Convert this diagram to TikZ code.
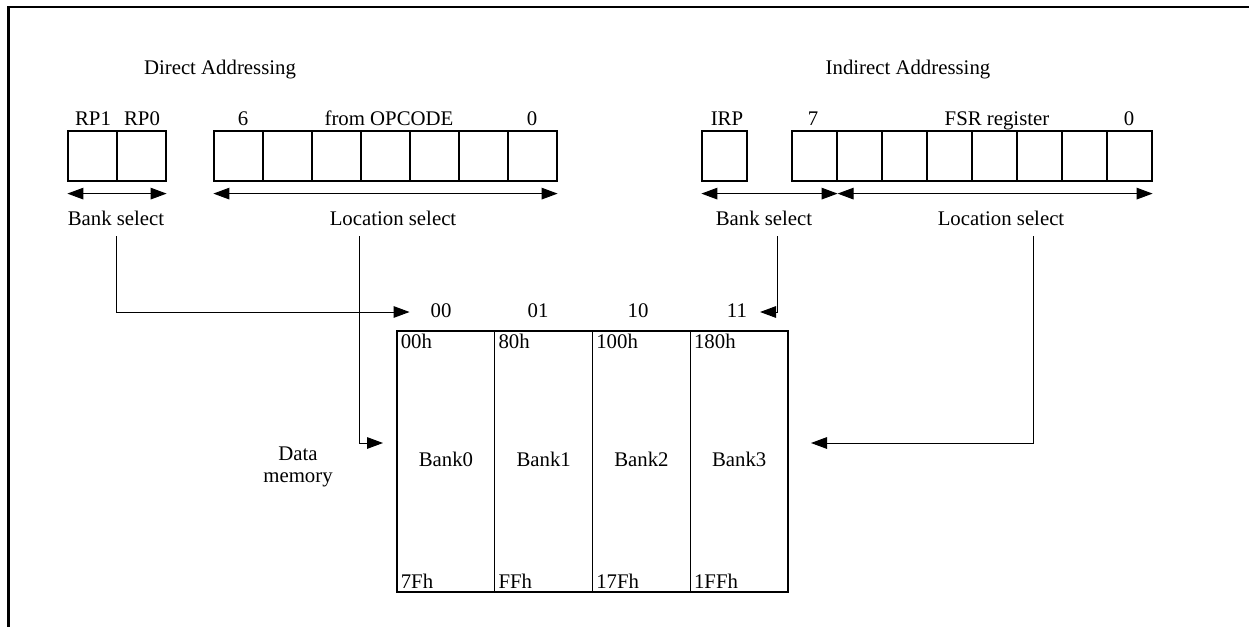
\documentclass[tikz,border=0pt]{standalone}
\usepackage{fontspec}
\setmainfont{Liberation Serif}
\usetikzlibrary{arrows.meta}

\begin{document}
\begin{tikzpicture}[x=0.5pt,y=-0.5pt,font=\fontsize{10.4}{11}\selectfont,
        txt/.style={inner sep=3.33pt,text height=7pt,text depth=2pt},
        bitL/.style={draw,line width=0.6pt,minimum width=24.5pt,minimum height=25pt,inner sep=0pt},
        bitR/.style={bitL,minimum width=22.5pt},
        bank/.style={draw,line width=0.6pt,minimum width=48.875pt,minimum height=130.5pt,txt},
        addr/.style={txt,inner sep=2pt,text depth=0pt},
        selspan/.style={line width=0.5pt,{Triangle[length=8pt,width=5.8pt]}-{Triangle[length=8pt,width=5.8pt]}},
        conn/.style={line width=0.5pt,-{Triangle[length=8pt,width=5.8pt]}}]
        \useasboundingbox (0,0) rectangle (1249,627);
        \draw[line width=1.2pt] (8.5,627) -- (8.5,7) -- (1249,7);

        % direct addressing
        \node[txt] (dirttl) at (220,69) {Direct Addressing};
        \node[bitL] (rp1) at (92.5,156) {};
        \node[bitL] (rp0) at (141.5,156) {};
        \node[txt] (rp1lbl) at (93,120) {RP1};
        \node[txt] (rp0lbl) at (142,120) {RP0};
        \foreach \k in {0,...,6}
            \node[bitL] (op\k) at ({238.5+49*\k},156) {};
        \node[txt] (ophi) at (243,120) {6};
        \node[txt] (opttl) at (389,120) {from OPCODE};
        \node[txt] (oplo) at (532,120) {0};
        \draw[selspan] ([yshift=-6pt]rp1.south west) -- ([yshift=-6pt]rp0.south east);
        \draw[selspan] ([yshift=-6pt]op0.south west) -- ([yshift=-6pt]op6.south east);
        \node[txt] (bsL) at (116,220) {Bank select};
        \node[txt] (lsL) at (393,220) {Location select};

        % indirect addressing
        \node[txt] (indttl) at (908,69) {Indirect Addressing};
        \node[bitR] (irp) at (724.5,156) {};
        \node[txt] (irplbl) at (727,120) {IRP};
        \foreach \k in {0,...,7}
            \node[bitR] (fsr\k) at ({814.5+45*\k},156) {};
        \node[txt] (fsrhi) at (813,120) {7};
        \node[txt] (fsrttl) at (997,120) {FSR register};
        \node[txt] (fsrlo) at (1129,120) {0};
        \draw[selspan] ([yshift=-6pt]irp.south west) -- ([yshift=-6pt]fsr0.south east);
        \draw[selspan] ([yshift=-6pt]fsr0.south east) -- ([yshift=-6pt]fsr7.south east);
        \node[txt] (bsR) at (764,220) {Bank select};
        \node[txt] (lsR) at (1001,220) {Location select};

        % data memory
        \foreach \k/\lo/\hi in {0/00h/7Fh,1/80h/FFh,2/100h/17Fh,3/180h/1FFh} {
            \node[bank] (bank\k) at ({445.9+97.75*\k},461.5) {Bank\k};
            \node[addr,anchor=north west] (lo\k) at (bank\k.north west) {\lo};
            \node[addr,anchor=south west] (hi\k) at (bank\k.south west) {\hi};
        }
        \foreach \b/\xx in {00/441,01/538,10/638,11/737}
            \node[txt] (sel\b) at (\xx,312) {\b};
        \node[align=center] (datamem) at (298,467) {Data\\memory};

        \coordinate (memL) at (383,443);
        \coordinate (memR) at (811,443);
        \draw[conn] (bsL.south) |- ([xshift=-7pt]sel00.west);
        \draw[conn] ([xshift=-17pt]lsL.south) |- (memL);
        \draw[conn] ([xshift=6.5pt]bsR.south) |- ([xshift=3pt]sel11.east);
        \draw[conn] ([xshift=16pt]lsR.south) |- (memR);
\end{tikzpicture}
\end{document}
